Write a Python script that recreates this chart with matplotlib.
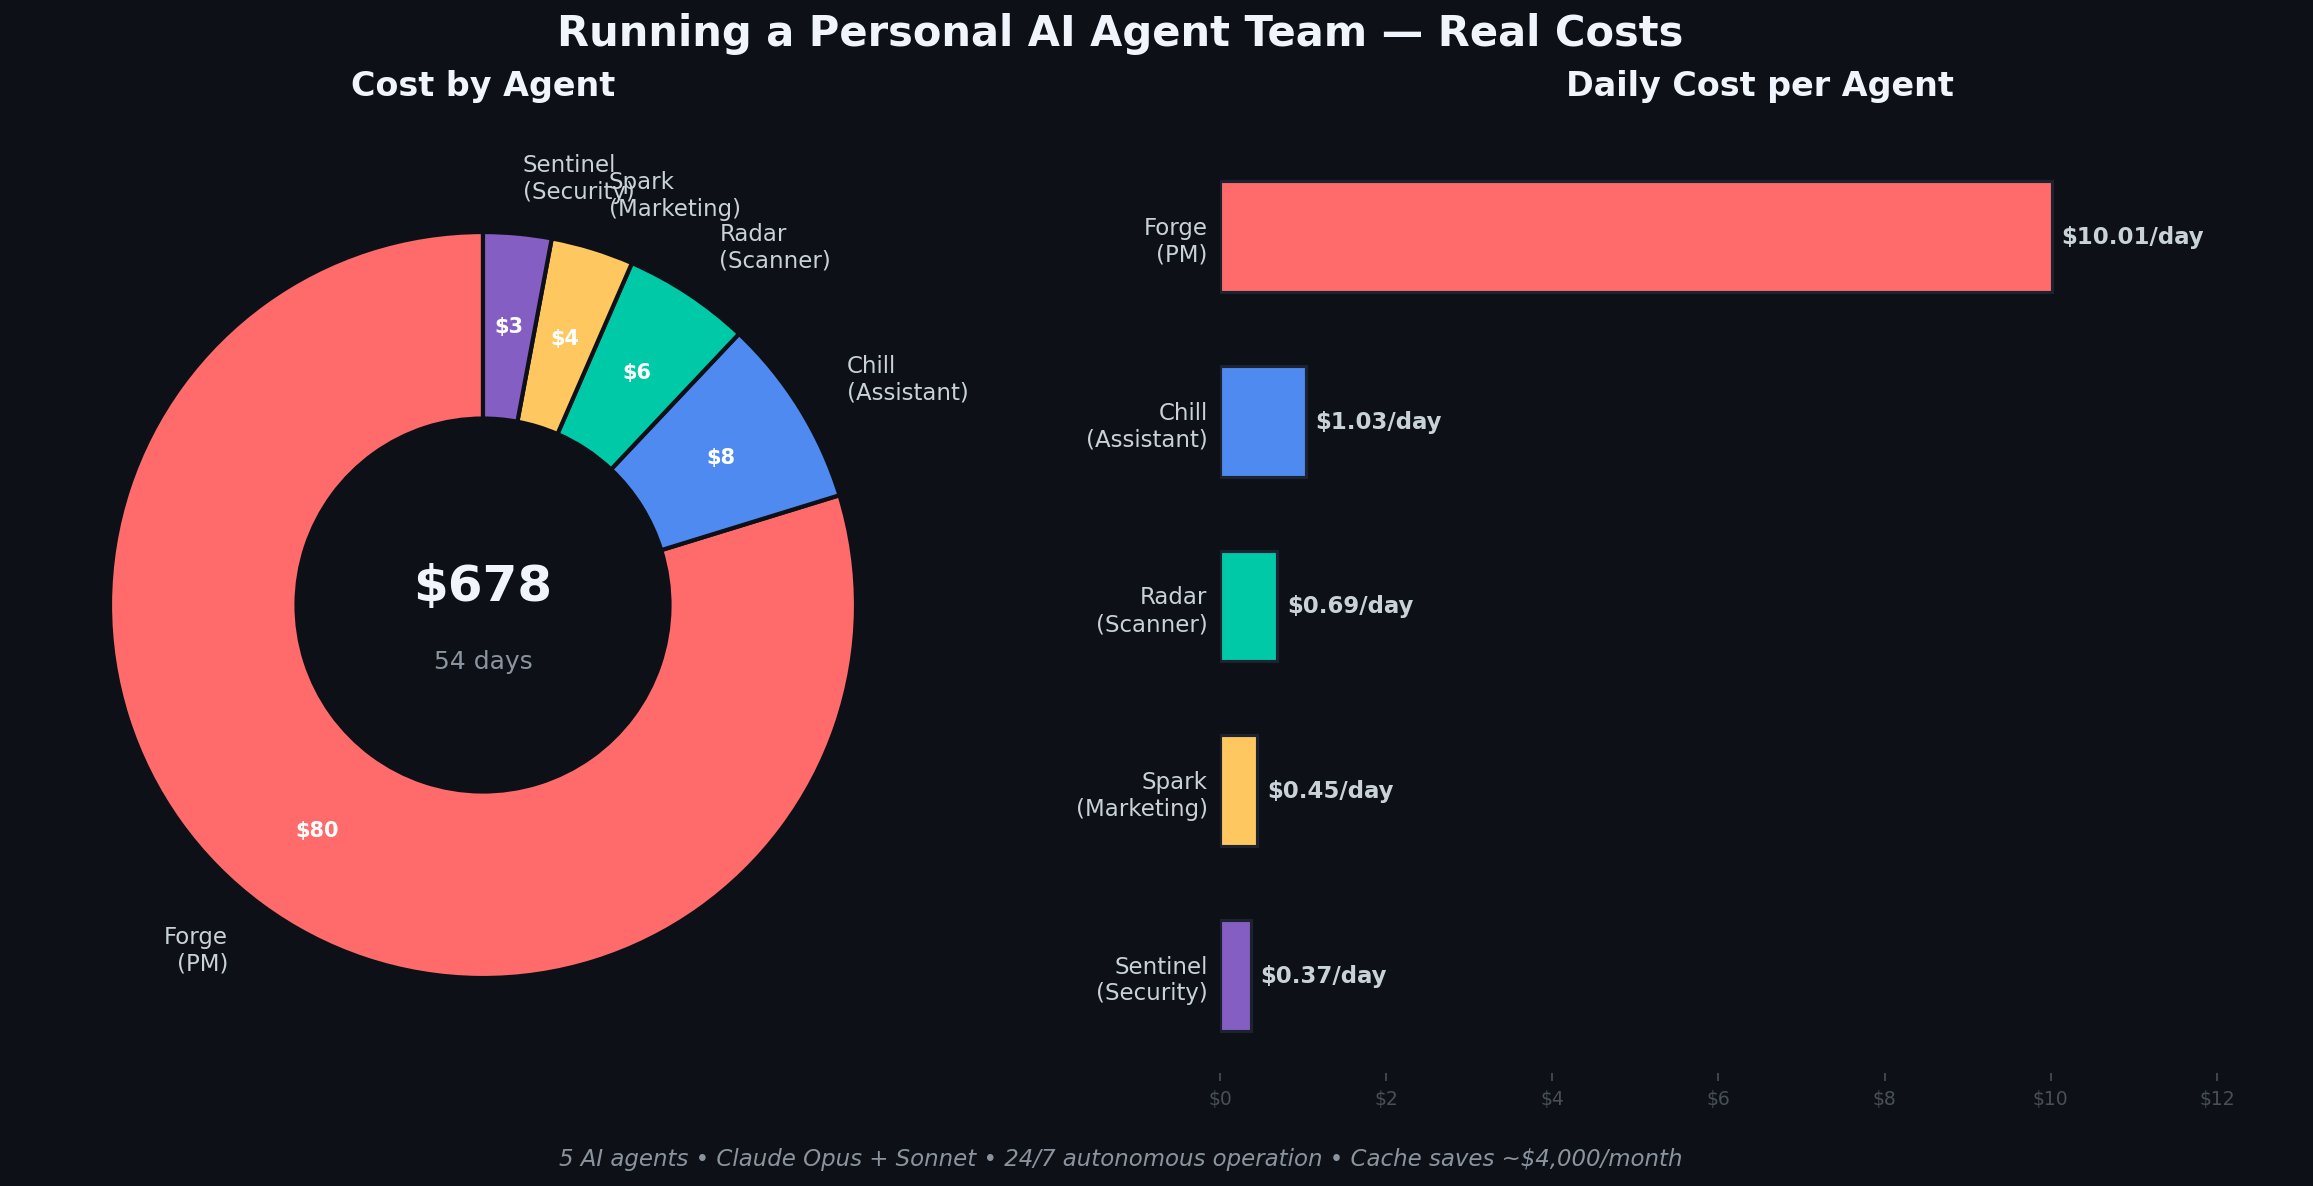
import matplotlib
matplotlib.use("Agg")
import matplotlib.pyplot as plt
import numpy as np

# Data
agents = ["Forge", "Chill", "Radar", "Spark", "Sentinel"]
roles = ["PM", "Assistant", "Scanner", "Marketing", "Security"]
total_cost = [540.5, 55.6, 37.3, 24.3, 20.0]      # $ over the period
daily_cost = [10.01, 1.03, 0.69, 0.45, 0.37]      # $ per day
days = 54
colors = ["#FF6B6B", "#4E8AF0", "#00C9A7", "#FFC75F", "#845EC2"]

bg = "#0d1117"
text_col = "#c9d1d9"

labels = ["{}\n({})".format(a, r) for a, r in zip(agents, roles)]

fig = plt.figure(figsize=(15.42, 7.913), dpi=150, facecolor=bg)

# Donut chart
R = 373  # outer radius in pixels
ax1 = fig.add_axes([(483 - 420) / 2313, (1187 - 606 - 420) / 1187, 840 / 2313, 840 / 1187])
ax1.set_facecolor(bg)
wedges, texts, autotexts = ax1.pie(
    total_cost, labels=labels, colors=colors, startangle=90,
    autopct="$%.0f", pctdistance=0.75, labeldistance=1.15,
    wedgeprops=dict(width=0.5, edgecolor=bg, linewidth=2),
    textprops=dict(color=text_col, fontsize=11),
)
for t in autotexts:
    t.set_color("white")
    t.set_fontweight("bold")
    t.set_fontsize(10)
ax1.set_xlim(-420 / R, 420 / R)
ax1.set_ylim(-420 / R, 420 / R)
ax1.set_aspect("equal")
ax1.text(0, 0.05, "${:.0f}".format(sum(total_cost)), ha="center", va="center",
         fontsize=24, fontweight="bold", color="#f0f4fc")
ax1.text(0, -0.15, "{} days".format(days), ha="center", va="center",
         fontsize=12, color="#8b949e")

# Horizontal bars
ax2 = fig.add_axes([1220 / 2313, 1 - 1074 / 1187, 1080 / 2313, 934 / 1187])
ax2.set_facecolor(bg)
ypos = np.arange(len(agents))[::-1]
ax2.barh(ypos, daily_cost, height=0.6, color=colors, edgecolor="#1c2230", linewidth=1.5)
for y, v in zip(ypos, daily_cost):
    ax2.text(v + 0.12, y, "${:.2f}/day".format(v), va="center", ha="left",
             fontsize=11, fontweight="bold", color=text_col)
ax2.set_yticks(ypos)
ax2.set_yticklabels(labels, fontsize=11, color=text_col)
ax2.tick_params(axis="y", length=0, pad=6)
ax2.set_xlim(0, 13)
ax2.set_xticks(np.arange(0, 13, 2))
ax2.set_xticklabels(["${}".format(x) for x in range(0, 13, 2)])
ax2.tick_params(axis="x", colors="#484f58", labelsize=9, length=4)
for s in ax2.spines.values():
    s.set_visible(False)

# Titles and footer
fig.text(0.4845, 0.971, "Running a Personal AI Agent Team — Real Costs", ha="center", va="center",
         fontsize=20, fontweight="bold", color="#f0f4fc")
fig.text(483 / 2313, 0.927, "Cost by Agent", ha="center", va="center",
         fontsize=16, fontweight="bold", color="#f0f4fc")
fig.text((1220 + 540) / 2313, 0.927, "Daily Cost per Agent", ha="center", va="center",
         fontsize=16, fontweight="bold", color="#f0f4fc")
fig.text(0.4845, 0.0235, "5 AI agents • Claude Opus + Sonnet • 24/7 autonomous operation • Cache saves ~$4,000/month",
         ha="center", va="center", fontsize=11, style="italic", color="#8b949e")

fig.savefig("out.png", dpi=150, facecolor=bg)
